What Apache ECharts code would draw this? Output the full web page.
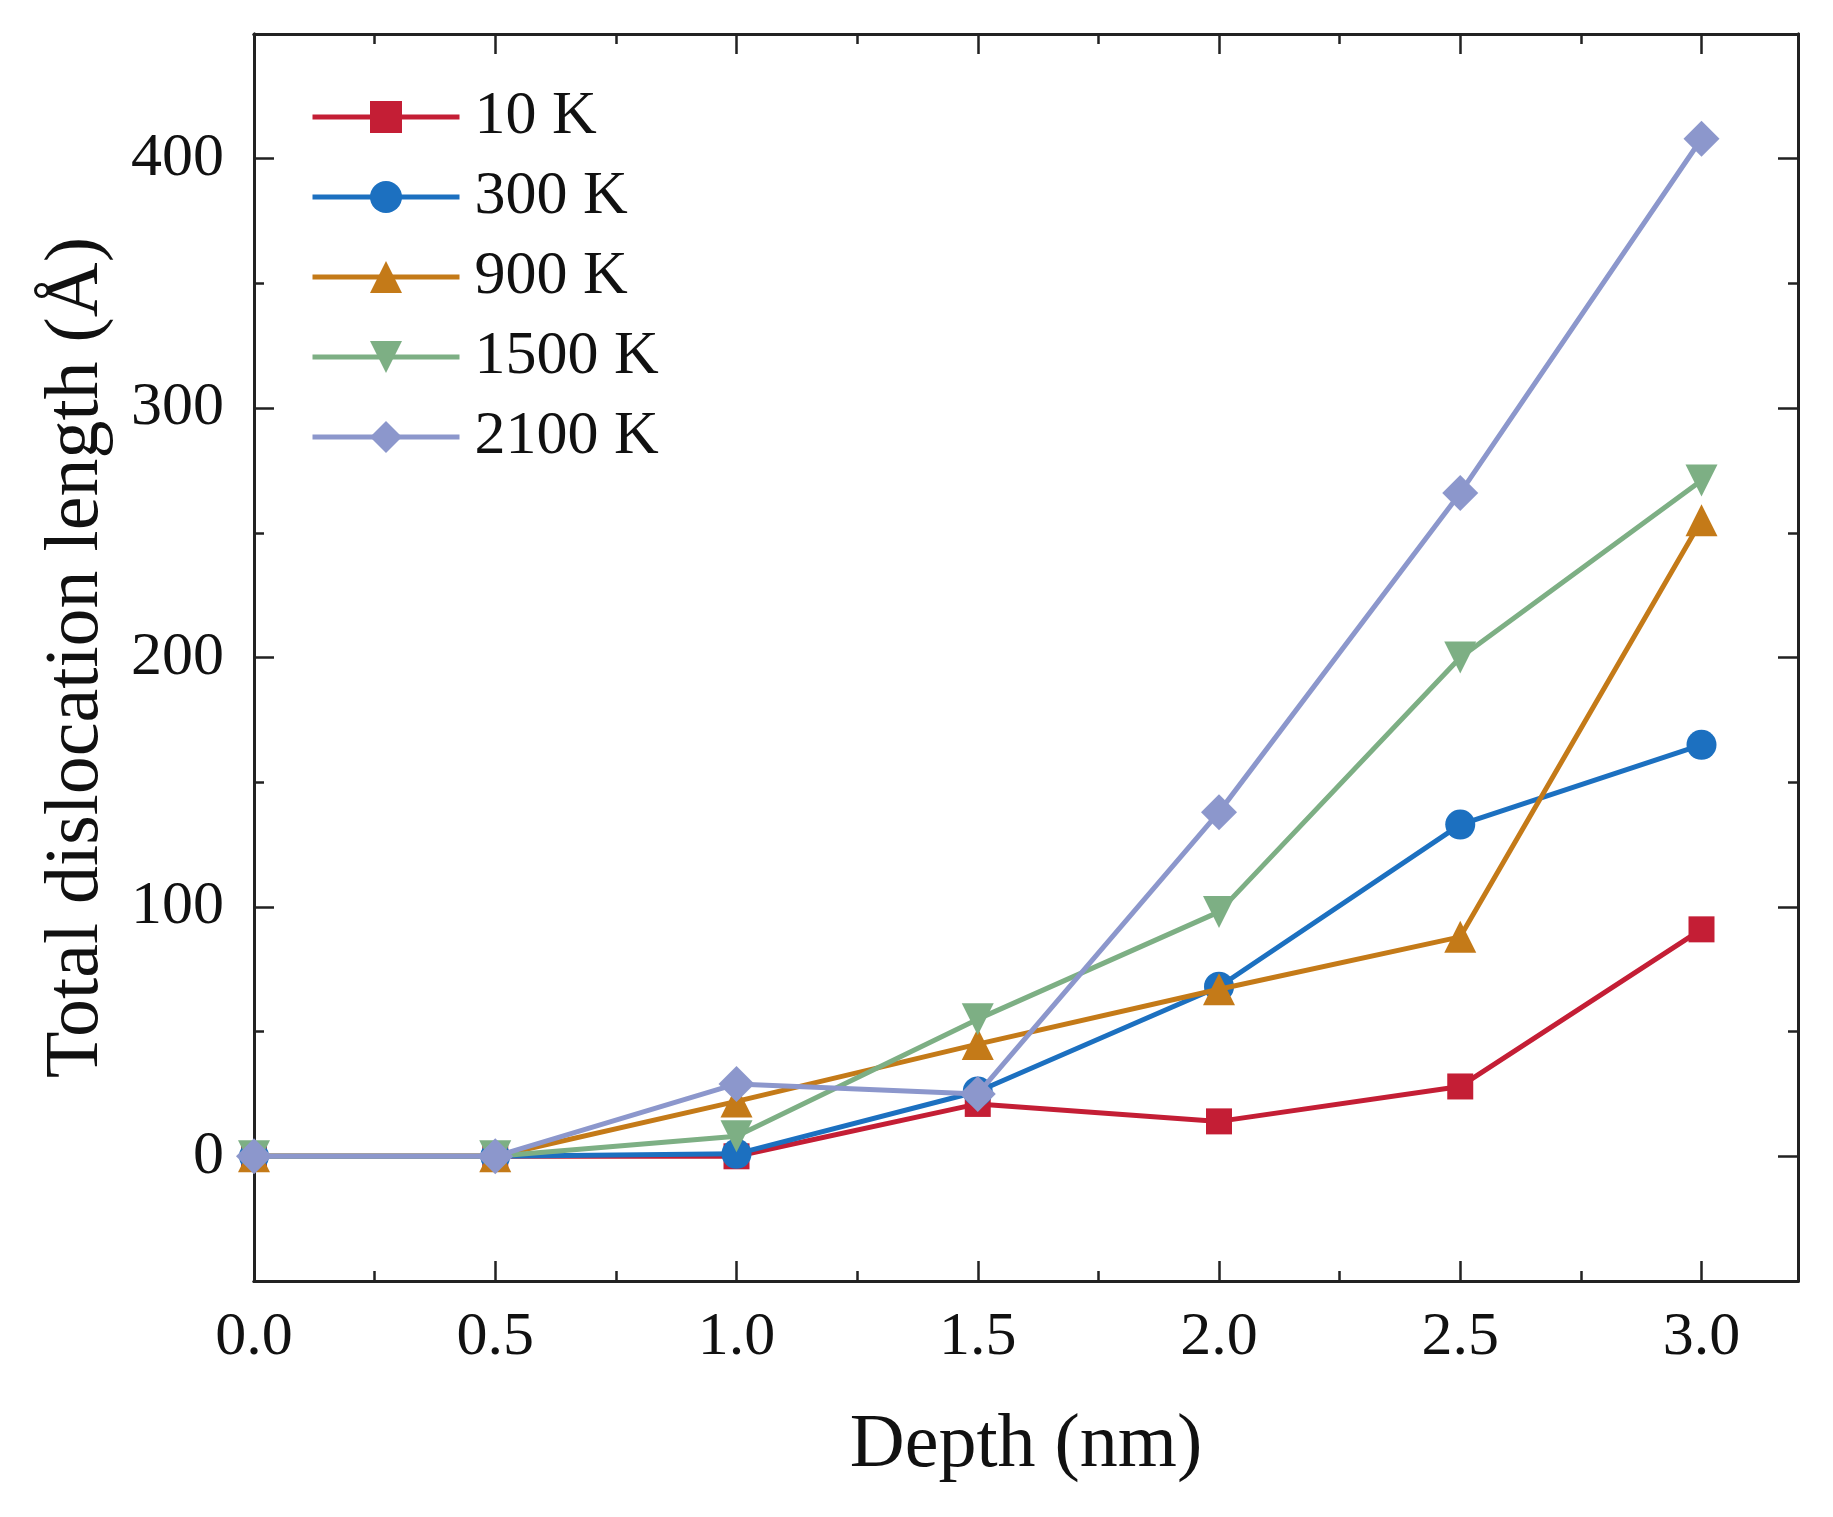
<!DOCTYPE html>
<html>
<head>
<meta charset="utf-8">
<script src="https://cdn.jsdelivr.net/npm/echarts@6/dist/echarts.min.js"></script>
<style>
html,body{margin:0;padding:0;background:#fff;}
#chart{width:1833px;height:1517px;}
</style>
</head>
<body>
<div id="chart"></div>
<script>
const depth = [0, 0.5, 1.0, 1.5, 2.0, 2.5, 3.0];
const seriesNames = ['10 K', '300 K', '900 K', '1500 K', '2100 K'];
const v10K   = [0, 0, 0, 21, 14, 28, 91];
const v300K  = [0, 0, 1, 26, 68, 133, 165];
const v900K  = [0, 0, 22, 45, 67, 88, 255];
const v1500K = [0, 0, 8, 55, 98, 200, 271];
const v2100K = [0, 0, 29, 25, 138, 266, 408];
const xTicks = [0, 0.5, 1.0, 1.5, 2.0, 2.5, 3.0];
const xMinorTicks = [0.25, 0.75, 1.25, 1.75, 2.25, 2.75];
const yTicks = [0, 100, 200, 300, 400];
const yMinorTicks = [50, 150, 250, 350];

const FONT = '"Liberation Serif", "Times New Roman", serif';
const AX = '#222';

function pairs(vals) { return depth.map((d, i) => [d, vals[i]]); }

function xAx(pos, ticks, len, withLabel) {
  const a = {
    type: 'value', position: pos, min: 0, max: 3.2,
    axisLine: { show: true, onZero: false, lineStyle: { color: AX, width: 3 } },
    axisTick: { show: true, inside: true, length: len, customValues: ticks, lineStyle: { color: AX, width: 2.5 } },
    axisLabel: { show: false },
    splitLine: { show: false }
  };
  if (withLabel) {
    a.axisLabel = { show: true, customValues: ticks, formatter: v => v.toFixed(1), fontFamily: FONT, fontSize: 62, color: '#111', margin: 26 };
    a.name = 'Depth (nm)';
    a.nameLocation = 'middle';
    a.nameGap = 165;
    a.nameTextStyle = { fontFamily: FONT, fontSize: 76, color: '#111', verticalAlign: 'middle' };
  }
  return a;
}
function yAx(pos, ticks, len, withLabel) {
  const a = {
    type: 'value', position: pos, min: -50, max: 450,
    axisLine: { show: true, onZero: false, lineStyle: { color: AX, width: 3 } },
    axisTick: { show: true, inside: true, length: len, customValues: ticks, lineStyle: { color: AX, width: 2.5 } },
    axisLabel: { show: false },
    splitLine: { show: false }
  };
  if (withLabel) {
    a.axisLabel = { show: true, customValues: ticks, fontFamily: FONT, fontSize: 62, color: '#111', margin: 30 };
    a.name = 'Total dislocation length (Å)';
    a.nameLocation = 'middle';
    a.nameGap = 177;
    a.nameTextStyle = { fontFamily: FONT, fontSize: 76, color: '#111', verticalAlign: 'middle' };
  }
  return a;
}

const styles = [
  { color: '#C41E35', symbol: 'rect', size: 26, rotate: 0 },
  { color: '#1C70C0', symbol: 'circle', size: 30, rotate: 0 },
  { color: '#C47A18', symbol: 'triangle', size: 32, rotate: 0 },
  { color: '#7DAF84', symbol: 'triangle', size: 32, rotate: 180 },
  { color: '#8C97CC', symbol: 'diamond', size: 36, rotate: 0 }
];
const allVals = [v10K, v300K, v900K, v1500K, v2100K];

const series = seriesNames.map((name, i) => ({
  name: name,
  type: 'line',
  xAxisIndex: 0,
  yAxisIndex: 0,
  data: pairs(allVals[i]),
  symbol: styles[i].symbol,
  symbolSize: styles[i].size,
  symbolRotate: styles[i].rotate,
  showAllSymbol: true,
  clip: false,
  lineStyle: { color: styles[i].color, width: 5 },
  itemStyle: { color: styles[i].color },
  animation: false,
  z: 2 + i
}));

const chart = echarts.init(document.getElementById('chart'), null, { renderer: 'canvas' });
chart.setOption({
  backgroundColor: '#fff',
  animation: false,
  grid: { left: 254, right: 35, top: 34, bottom: 236, containLabel: false },
  legend: {
    left: 305, top: 81, orient: 'vertical',
    itemWidth: 147, itemHeight: 40, itemGap: 18,
    data: seriesNames,
    lineStyle: { width: 5 },
    textStyle: { fontFamily: FONT, fontSize: 62, color: '#111', padding: [0, 0, 0, 10] }
  },
  xAxis: [
    xAx('bottom', xTicks, 20, true),
    xAx('bottom', xMinorTicks, 10, false),
    xAx('top', xTicks, 20, false),
    xAx('top', xMinorTicks, 10, false)
  ],
  yAxis: [
    yAx('left', yTicks, 20, true),
    yAx('left', yMinorTicks, 10, false),
    yAx('right', yTicks, 20, false),
    yAx('right', yMinorTicks, 10, false)
  ],
  series: series
});
</script>
</body>
</html>
